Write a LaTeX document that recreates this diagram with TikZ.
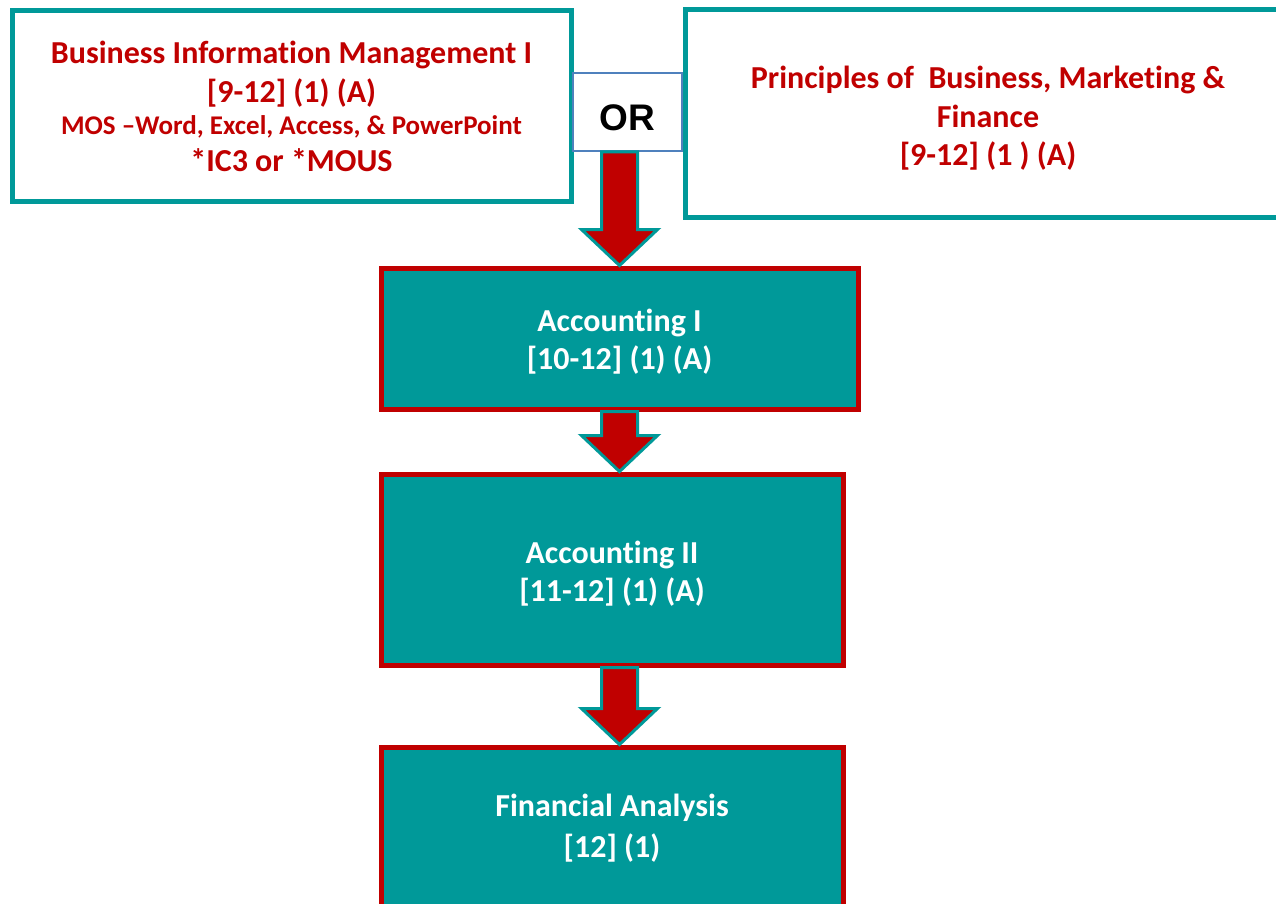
\documentclass[tikz,border=0pt]{standalone}
\usepackage{fontspec}
\setmainfont{Carlito}[Ligatures=NoCommon]
\newfontfamily\orfont{Liberation Sans}
\usetikzlibrary{calc}
\definecolor{verdeazul}{HTML}{009999}
\definecolor{rojo}{HTML}{C00000}
\definecolor{azul}{HTML}{4F81BD}

% Flecha de bloque entre dos cursos
\newcommand{\flecha}[2]{%
  \draw[flechabloque] let \p1=(#1.south), \p2=(#2.north), \p3=(acc1.center) in
    (\x3-18pt,\y1) -- (\x3-18pt,\y2+36pt) -- (\x3-38pt,\y2+36pt) -- (\x3,\y2)
    -- (\x3+38pt,\y2+36pt) -- (\x3+18pt,\y2+36pt) -- (\x3+18pt,\y1) -- cycle;}

\begin{document}
\begin{tikzpicture}[x=1pt,y=1pt,
  cursoblanco/.style={draw=verdeazul, line width=5pt, fill=white, text=rojo,
    inner sep=0pt, align=center, font=\bfseries\fontsize{32}{38}\selectfont},
  cursoverde/.style={draw=rojo, line width=5pt, fill=verdeazul, text=white,
    inner sep=0pt, align=center, font=\bfseries\fontsize{32}{38}\selectfont},
  flechabloque/.style={draw=verdeazul, line width=3pt, fill=rojo, line join=miter}]
  \useasboundingbox (0,0) rectangle (1276,-903);

  % Cursos iniciales
  \node[cursoblanco, minimum width=559pt, minimum height=191pt] (bim) at (291.5,-106)
    {Business Information Management I\\[1pt] {[9-12] (1) (A)}\\[-6pt]
     {\fontsize{27}{32}\selectfont MOS --Word, Excel, Access, \& PowerPoint}\\[-1pt]
     *IC3 or *MOUS};
  \node[cursoblanco, minimum width=606pt, minimum height=208pt] (pbm) at (988,-113.5)
    {\rule{0pt}{32pt}Principles of\ \ Business, Marketing \&\\[1pt] Finance\\ {[9-12] (1 ) (A)}};

  % OR
  \node[draw=azul, line width=1.5pt, fill=white, minimum width=109pt, minimum height=78pt,
    font=\orfont\bfseries\fontsize{37}{40}\selectfont] (or) at (627.5,-112) {\rule{0pt}{38pt}OR};

  % Secuencia de contabilidad
  \node[cursoverde, minimum width=477pt, minimum height=141pt] (acc1) at (619.5,-338.5)
    {\rule{0pt}{28pt}Accounting I\\ {[10-12] (1) (A)}};
  \node[cursoverde, minimum width=462pt, minimum height=191pt] (acc2) at (612,-569.5)
    {\rule{0pt}{30pt}Accounting II\\ {[11-12] (1) (A)}};
  \node[cursoverde, minimum width=462pt, minimum height=162pt] (fin) at (612,-828)
    {Financial Analysis\\[3pt] {[12] (1)}};

  % Flechas
  \flecha{or}{acc1}
  \flecha{acc1}{acc2}
  \flecha{acc2}{fin}
\end{tikzpicture}
\end{document}
